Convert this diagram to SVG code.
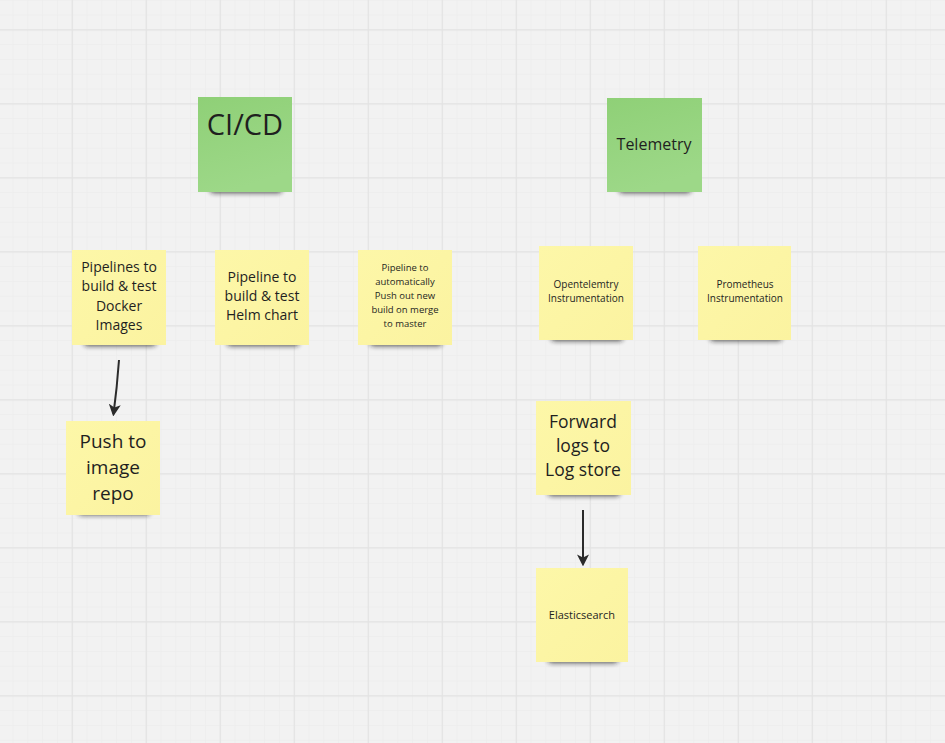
<svg xmlns="http://www.w3.org/2000/svg" width="945" height="743" viewBox="0 0 945 743">
<defs>
<pattern id="minor" x="-2.3" y="29.3" width="14.8" height="14.8" patternUnits="userSpaceOnUse">
<path d="M0 0.5H14.8M0.5 0V14.8" stroke="#ececec" stroke-width="0.8" fill="none"/>
</pattern>
<pattern id="major" x="-2.3" y="29.3" width="74" height="74" patternUnits="userSpaceOnUse">
<path d="M0 0.5H74M0.5 0V74" stroke="#e2e2e2" stroke-width="1.3" fill="none"/>
</pattern>
<filter id="blur" x="-20%" y="-100%" width="140%" height="300%">
<feGaussianBlur stdDeviation="2.5"/>
</filter>
<linearGradient id="yg" x1="0" y1="0" x2="1" y2="1">
<stop offset="0" stop-color="#fdf7a8"/>
<stop offset="1" stop-color="#fbf3a0"/>
</linearGradient>
<linearGradient id="gg" x1="0" y1="0" x2="0.3" y2="1">
<stop offset="0" stop-color="#8fd077"/>
<stop offset="1" stop-color="#9dd888"/>
</linearGradient>
<marker id="ah" viewBox="0 0 10 10" refX="8" refY="5" markerWidth="6" markerHeight="6" orient="auto">
<path d="M0 0L10 5L0 10L2.5 5z" fill="#2b2b2b"/>
</marker>
</defs>
<style>
.sh{fill:#1a1a1a;opacity:.75;filter:url(#blur)}
.y{fill:url(#yg)}
.g{fill:url(#gg)}
text{font-family:"Open Sans","Noto Sans","DejaVu Sans",sans-serif;fill:#1f1f1f;text-anchor:middle}
.conn{stroke:#2b2b2b;stroke-width:2;fill:none;marker-end:url(#ah)}
</style>
<rect width="945" height="743" fill="#f2f2f2"/>
<rect width="945" height="743" fill="url(#minor)"/>
<rect width="945" height="743" fill="url(#major)"/>

<g id="cicd">
<rect class="sh" x="210" y="185" width="72" height="8" rx="4"/>
<rect class="g" x="198" y="97" width="94" height="95"/>
<text x="245" y="135" font-size="29">CI/CD</text>
</g>
<g id="telemetry">
<rect class="sh" x="619" y="185" width="72" height="8" rx="4"/>
<rect class="g" x="607" y="98" width="95" height="94"/>
<text x="654" y="150" font-size="16">Telemetry</text>
</g>

<g id="docker">
<rect class="sh" x="84" y="338" width="72" height="8" rx="4"/>
<rect class="y" x="72" y="250" width="94" height="95"/>
<text font-size="14"><tspan x="119" y="272">Pipelines to</tspan><tspan x="119" y="291">build &amp; test</tspan><tspan x="119" y="311">Docker</tspan><tspan x="119" y="330">Images</tspan></text>
</g>
<g id="helm">
<rect class="sh" x="227" y="338" width="72" height="8" rx="4"/>
<rect class="y" x="215" y="250" width="94" height="95"/>
<text font-size="14"><tspan x="262" y="282">Pipeline to</tspan><tspan x="262" y="301">build &amp; test</tspan><tspan x="262" y="320">Helm chart</tspan></text>
</g>
<g id="autopush">
<rect class="sh" x="370" y="338" width="72" height="8" rx="4"/>
<rect class="y" x="358" y="250" width="94" height="95"/>
<text font-size="9.5"><tspan x="405" y="271">Pipeline to</tspan><tspan x="405" y="285">automatically</tspan><tspan x="405" y="299">Push out new</tspan><tspan x="405" y="313">build on merge</tspan><tspan x="405" y="327">to master</tspan></text>
</g>
<g id="otel">
<rect class="sh" x="551" y="333" width="72" height="8" rx="4"/>
<rect class="y" x="539" y="246" width="94" height="94"/>
<text font-size="10"><tspan x="586" y="288">Opentelemtry</tspan><tspan x="586" y="302">Instrumentation</tspan></text>
</g>
<g id="prometheus">
<rect class="sh" x="710" y="333" width="72" height="8" rx="4"/>
<rect class="y" x="698" y="246" width="93" height="94"/>
<text font-size="10"><tspan x="745" y="288">Prometheus</tspan><tspan x="745" y="302">Instrumentation</tspan></text>
</g>
<g id="push">
<rect class="sh" x="78" y="507" width="72" height="8" rx="4"/>
<rect class="y" x="66" y="421" width="94" height="94"/>
<text font-size="19"><tspan x="113" y="448">Push to</tspan><tspan x="113" y="474">image</tspan><tspan x="113" y="500">repo</tspan></text>
</g>
<g id="forward">
<rect class="sh" x="548" y="488" width="72" height="8" rx="4"/>
<rect class="y" x="536" y="401" width="95" height="94"/>
<text font-size="17.5"><tspan x="583" y="428">Forward</tspan><tspan x="583" y="452">logs to</tspan><tspan x="583" y="476">Log store</tspan></text>
</g>
<g id="elastic">
<rect class="sh" x="548" y="655" width="70" height="8" rx="4"/>
<rect class="y" x="536" y="568" width="92" height="94"/>
<text x="582" y="619" font-size="11">Elasticsearch</text>
</g>

<g id="connectors">
<path class="conn" d="M119 360Q117 388 113.5 414"/>
<path class="conn" d="M583 510V564"/>
</g>
</svg>
